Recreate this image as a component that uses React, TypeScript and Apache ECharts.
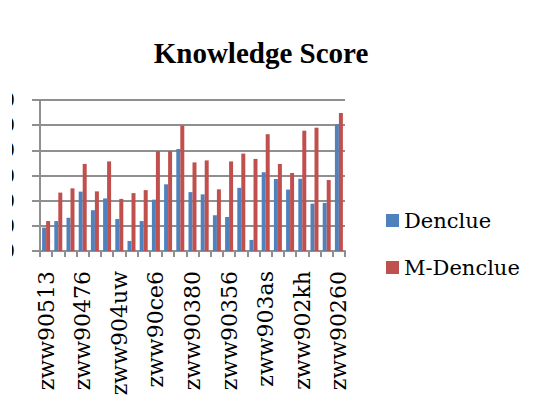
import React, { useEffect, useRef } from "react";
import * as echarts from "echarts";

const categories = [
  "zww90513", "zww90498", "zww90487", "zww90476", "zww90452", "zww90433",
  "zww904uw", "zww90411", "zww90397", "zww90ce6", "zww90391", "zww90385",
  "zww90380", "zww90372", "zww90365", "zww90356", "zww90349", "zww90341",
  "zww903as", "zww90327", "zww90315", "zww902kh", "zww90288", "zww90271",
  "zww90260",
];
const denclue = [
  9.3, 11.9, 13.2, 23.6, 16.2, 20.9, 12.7, 4.0, 11.9, 20.4, 26.5, 40.5, 23.4,
  22.5, 14.2, 13.5, 25.1, 4.4, 31.3, 28.6, 24.4, 28.7, 18.8, 19.1, 50.3,
];
const mDenclue = [
  11.9, 23.2, 24.9, 34.6, 23.7, 35.6, 20.7, 23.0, 24.2, 39.7, 39.7, 49.8, 35.2,
  36.0, 24.5, 35.6, 38.7, 36.6, 46.4, 34.6, 31.0, 47.8, 49.0, 28.2, 54.8,
];
const yTicks = { min: 0, max: 60, interval: 10 };

export default function App() {
  const ref = useRef<HTMLDivElement>(null);
  useEffect(() => {
    const chart = echarts.init(ref.current!, null, { renderer: "svg" });
    const gray = "#8f8f8f";
    chart.setOption({
      animation: false,
      backgroundColor: "#ffffff",
      title: {
        text: "Knowledge Score",
        left: 256,
        textAlign: "center",
        top: 33,
        textStyle: {
          fontFamily: "Liberation Serif",
          fontWeight: "bold",
          fontSize: 29,
          color: "#000",
        },
      },
      legend: {
        orient: "vertical",
        left: 381,
        top: 205,
        itemWidth: 13,
        itemHeight: 13,
        itemGap: 26,
        icon: "rect",
        textStyle: { fontFamily: "DejaVu Serif", fontSize: 21, color: "#000" },
        data: ["Denclue", "M-Denclue"],
      },
      grid: {
        left: 40,
        right: 200,
        top: 100,
        bottom: 164,
        containLabel: false,
        outerBoundsMode: "none",
      },
      xAxis: {
        type: "category",
        data: categories,
        axisLine: { lineStyle: { color: gray, width: 2 } },
        axisTick: { show: true, interval: 0, length: 6, lineStyle: { color: gray, width: 2 } },
        axisLabel: {
          interval: 2,
          rotate: 90,
          margin: 20,
          fontFamily: "DejaVu Serif",
          fontSize: 22,
          color: "#000",
        },
      },
      yAxis: {
        type: "value",
        min: yTicks.min,
        max: yTicks.max,
        interval: yTicks.interval,
        axisLine: { show: true, lineStyle: { color: gray, width: 2 } },
        axisTick: { show: true, length: 8, lineStyle: { color: gray, width: 2 } },
        splitLine: { lineStyle: { color: gray, width: 2 } },
        axisLabel: { margin: 25, fontFamily: "DejaVu Serif", fontSize: 20, color: "#000" },
      },
      graphic: [
        {
          type: "rect",
          left: 0,
          top: 80,
          z: 100,
          shape: { x: 0, y: 0, width: 12, height: 190 },
          style: { fill: "#ffffff" },
        },
      ],
      series: [
        {
          name: "Denclue",
          type: "bar",
          data: denclue,
          barWidth: 4,
          barGap: "0%",
          itemStyle: { color: "#4F81BD" },
        },
        {
          name: "M-Denclue",
          type: "bar",
          data: mDenclue,
          barWidth: 4,
          barGap: "0%",
          itemStyle: { color: "#C0504D" },
        },
      ],
    });
    return () => chart.dispose();
  }, []);
  return (
    <div
      ref={ref}
      style={{ position: "absolute", left: 0, top: 0, width: 545, height: 415 }}
    />
  );
}
